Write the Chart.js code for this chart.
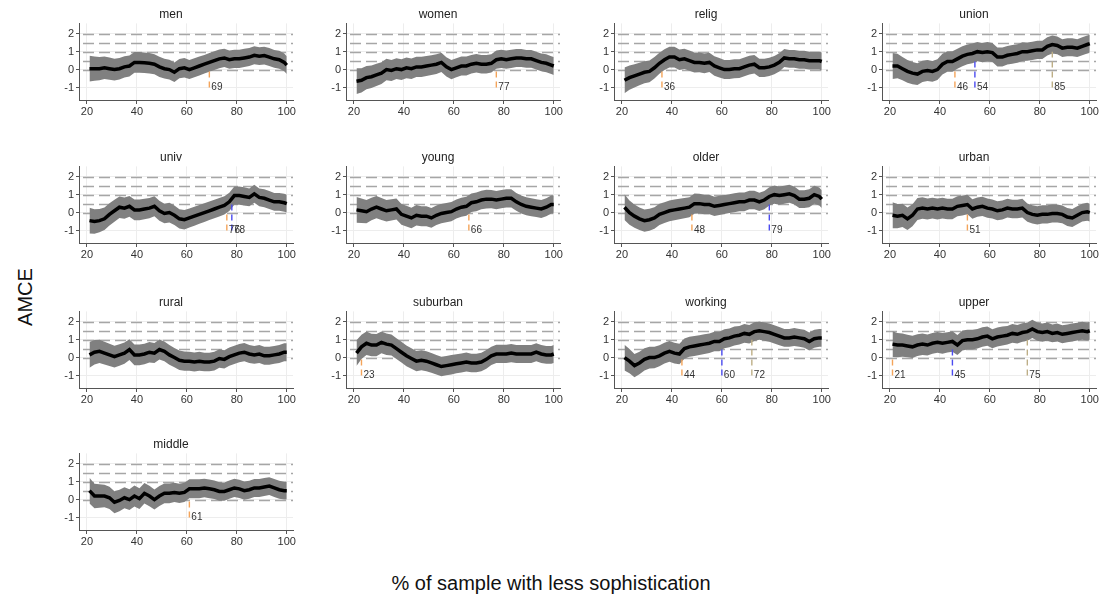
<!DOCTYPE html>
<html>
<head>
<meta charset="utf-8">
<script src="https://cdn.jsdelivr.net/npm/chart.js@4.4.1/dist/chart.umd.min.js"></script>
<style>
body{margin:0;background:#fff;width:1103px;height:600px;position:relative;overflow:hidden;font-family:"Liberation Sans",Arial,sans-serif;}
canvas{position:absolute;}
#ylab{position:absolute;left:25px;top:297px;transform:translate(-50%,-50%) rotate(-90deg);font-size:20px;color:#111;white-space:nowrap;}
#xlab{position:absolute;left:551px;top:583px;transform:translate(-50%,-50%);font-size:20px;color:#111;white-space:nowrap;}
</style>
</head>
<body>
<div id="ylab">AMCE</div>
<div id="xlab">% of sample with less sophistication</div>
<script>
// x positions where the rolling estimate was read off
const sampleX = [21,23,25,27,29,31,33,35,37,39, 41,43,45,47,49,51,53,55,57,59, 61,63,65,67,69,71,73,75,77,79, 81,83,85,87,89,91,93,95,97,99, 100];
// half width of the grey band
const ciHalf = [0.72,0.68,0.65,0.63,0.62,0.61,0.6,0.59,0.58,0.58, 0.58,0.57,0.57,0.56,0.56,0.55,0.55,0.54,0.54,0.54, 0.53,0.53,0.53,0.52,0.52,0.52,0.52,0.51,0.51,0.51, 0.51,0.51,0.5,0.5,0.5,0.5,0.5,0.5,0.5,0.5, 0.5];

const panelNames = ['men','women','relig','union','univ','young','older','urban','rural','suburban','working','upper','middle'];

const men = [0.05,0.05,0.05,0.1,0.05,0.0,0.05,0.15,0.2,0.4, 0.4,0.38,0.35,0.3,0.15,0.05,0.0,-0.15,0.05,0.1, 0.0,0.1,0.2,0.3,0.4,0.5,0.6,0.65,0.55,0.6, 0.6,0.65,0.7,0.8,0.75,0.78,0.7,0.6,0.55,0.4, 0.25];
const women = [-0.65,-0.6,-0.45,-0.4,-0.3,-0.2,0.0,-0.05,0.05,0.0, 0.1,0.05,0.15,0.15,0.2,0.25,0.3,0.4,0.15,0.0, 0.1,0.2,0.2,0.3,0.35,0.3,0.3,0.35,0.55,0.6, 0.55,0.6,0.65,0.65,0.6,0.6,0.5,0.4,0.35,0.25, 0.2];
const relig = [-0.6,-0.45,-0.35,-0.25,-0.15,-0.1,0.1,0.35,0.55,0.7, 0.7,0.55,0.6,0.5,0.4,0.4,0.35,0.4,0.2,0.1, 0.0,0.0,0.05,0.05,0.15,0.25,0.3,0.1,0.1,0.15, 0.25,0.4,0.65,0.6,0.6,0.55,0.55,0.5,0.5,0.5, 0.45];
const union = [0.2,0.2,0.05,-0.1,-0.2,-0.25,-0.1,-0.05,-0.1,0.0, 0.3,0.45,0.45,0.6,0.75,0.85,0.9,1.0,0.95,1.0, 0.95,0.7,0.7,0.8,0.85,0.9,1.0,1.0,1.05,1.1, 1.1,1.3,1.4,1.35,1.2,1.25,1.25,1.2,1.3,1.4, 1.45];
const univ = [-0.45,-0.5,-0.45,-0.35,-0.1,0.1,0.3,0.25,0.35,0.15, 0.15,0.2,0.25,0.35,0.1,-0.05,0.0,-0.15,-0.35,-0.4, -0.3,-0.2,-0.1,0.0,0.1,0.2,0.3,0.4,0.6,0.95, 0.95,0.9,0.85,1.05,0.85,0.8,0.7,0.6,0.6,0.55, 0.5];
const young = [0.15,0.1,0.05,0.2,0.3,0.2,0.1,0.15,0.2,-0.1, -0.2,-0.3,-0.15,-0.2,-0.2,-0.3,-0.15,-0.05,0.0,0.05, 0.2,0.3,0.35,0.55,0.6,0.7,0.75,0.75,0.7,0.75, 0.8,0.8,0.6,0.45,0.35,0.3,0.25,0.2,0.3,0.45, 0.45];
const older = [0.3,0.0,-0.2,-0.35,-0.45,-0.4,-0.3,-0.1,0.0,0.1, 0.15,0.2,0.25,0.3,0.5,0.5,0.45,0.45,0.35,0.4, 0.45,0.5,0.55,0.6,0.6,0.7,0.7,0.6,0.7,0.9, 1.0,0.95,1.0,1.05,0.95,0.75,0.75,0.8,1.0,0.9, 0.75];
const urban = [-0.15,-0.2,-0.15,-0.35,-0.15,0.2,0.25,0.2,0.25,0.2, 0.25,0.2,0.2,0.35,0.4,0.45,0.2,0.3,0.35,0.25, 0.2,0.1,0.15,0.25,0.2,0.2,0.25,0.0,-0.1,-0.15, -0.1,-0.1,-0.05,-0.05,-0.1,-0.25,-0.3,-0.15,0.0,0.05, 0.0];
const rural = [0.15,0.3,0.35,0.25,0.15,0.05,0.15,0.25,0.45,0.15, 0.15,0.2,0.3,0.25,0.45,0.35,0.15,0.0,-0.15,-0.2, -0.2,-0.25,-0.2,-0.25,-0.25,-0.2,-0.05,-0.1,0.05,0.15, 0.25,0.3,0.2,0.15,0.2,0.1,0.1,0.15,0.2,0.3, 0.3];
const suburban = [0.25,0.6,0.8,0.7,0.7,0.85,0.75,0.7,0.5,0.3, 0.1,-0.05,-0.2,-0.15,-0.2,-0.3,-0.4,-0.5,-0.45,-0.4, -0.35,-0.3,-0.25,-0.3,-0.3,-0.25,-0.1,0.1,0.2,0.2, 0.2,0.25,0.2,0.2,0.2,0.2,0.3,0.2,0.15,0.15, 0.2];
const working = [0.0,-0.2,-0.45,-0.3,-0.1,0.0,0.0,0.1,0.25,0.35, 0.25,0.2,0.5,0.6,0.65,0.7,0.75,0.8,0.9,0.9, 1.05,1.1,1.2,1.25,1.35,1.3,1.45,1.5,1.45,1.4, 1.3,1.2,1.1,1.1,1.15,1.1,1.05,0.9,1.05,1.1, 1.1];
const upper = [0.75,0.7,0.7,0.65,0.6,0.7,0.75,0.7,0.8,0.85, 0.8,0.85,0.9,0.7,0.95,1.0,1.0,1.05,1.15,1.2, 1.05,1.15,1.2,1.25,1.35,1.3,1.4,1.45,1.6,1.45, 1.4,1.45,1.35,1.4,1.3,1.35,1.4,1.45,1.5,1.45, 1.5];
const middle = [0.5,0.2,0.2,0.2,0.1,-0.15,-0.05,0.1,0.0,0.2, 0.05,0.35,0.2,0.0,0.2,0.35,0.35,0.4,0.35,0.4, 0.6,0.6,0.6,0.65,0.6,0.55,0.45,0.45,0.55,0.65, 0.6,0.5,0.55,0.65,0.65,0.7,0.75,0.65,0.55,0.5, 0.5];
const panelSeries = [men,women,relig,union,univ,young,older,urban,rural,suburban,working,upper,middle];

// first x where the lower bound clears 0, 0.5 and 1
const cutLevels = [0, 0.5, 1];
const panelCuts = [[69],[77],[36],[46,54,85],[76,78],[66],[48,79],[51],[],[23],[44,60,72],[21,45,75],[61]];

const xTicks = [20,40,60,80,100];
const yTicks = [-1,0,1,2];
const refLevels = [0,0.5,1,1.5,2];

const cutColors = ['#f4a45a','#4b4bf0','#bdae86'];
const fontFam = '"Liberation Sans", Arial, sans-serif';
const colLeft = [49,316,584,852];
const rowTop = [1,144,289,431];

// dashed reference lines behind the band
const refLines = {
	id:'refLines',
	beforeDatasetsDraw(chart){
		const {ctx, chartArea:a, scales:{y}} = chart;
		ctx.save();
		ctx.strokeStyle = '#a6a6a6';
		ctx.lineWidth = 1.3;
		ctx.setLineDash([11,5]);
		refLevels.forEach(v => {
			const py = Math.round(y.getPixelForValue(v)) + 0.5;
			ctx.beginPath();
			ctx.moveTo(a.left + 4, py);
			ctx.lineTo(a.right, py);
			ctx.stroke();
		});
		ctx.restore();
	}
};
// numbers next to the cut lines
const cutLabels = {
	id:'cutLabels',
	afterDatasetsDraw(chart, args, opts){
		const {ctx, scales:{x,y}} = chart;
		ctx.save();
		ctx.font = '10px ' + fontFam;
		ctx.fillStyle = '#333';
		ctx.textBaseline = 'middle';
		(opts.cuts || []).forEach(c => {
			ctx.fillText(String(c), x.getPixelForValue(c) + 2, y.getPixelForValue(-1));
		});
		ctx.restore();
	}
};

panelNames.forEach(function(name, i){
	var cv = document.createElement('canvas');
	cv.width = 252; cv.height = 121;
	cv.style.left = colLeft[i % 4] + 'px';
	cv.style.top = rowTop[Math.floor(i / 4)] + 'px';
	document.body.appendChild(cv);

	var est = panelSeries[i], cuts = panelCuts[i];
	var cutSets = cuts.map(function(c, k){
		return {
			data:[{x:c,y:-1},{x:c,y:cutLevels[k]}],
			borderColor:cutColors[k], borderWidth:1.4, borderDash:[6,4],
			pointRadius:0, fill:false, order:1
		};
	});
	var datasets = [{
		data: sampleX.map((x,k) => ({x:x, y:est[k]})),
		borderColor:'#000', borderWidth:3.5, pointRadius:0, fill:false, order:0
	}].concat(cutSets, [{
		data: sampleX.map((x,k) => ({x:x, y:est[k] + ciHalf[k]})),
		borderWidth:0, borderColor:'rgba(0,0,0,0)', backgroundColor:'#808080',
		pointRadius:0, fill:'+1', order:2
	},{
		data: sampleX.map((x,k) => ({x:x, y:est[k] - ciHalf[k]})),
		borderWidth:0, borderColor:'rgba(0,0,0,0)', pointRadius:0, fill:false, order:3
	}]);

	new Chart(cv, {
		type:'line',
		data:{datasets:datasets},
		options:{
			responsive:false, animation:false,
			layout:{padding:{left:0,right:8,top:0,bottom:0}},
			plugins:{
				legend:{display:false}, tooltip:{enabled:false},
				title:{display:true, text:name, color:'#222',
					font:{size:12, weight:'normal', family:fontFam}, padding:{top:6,bottom:2}},
				cutLabels:{cuts:cuts}
			},
			scales:{
				x:{type:'linear', min:16.8, max:102.5,
					afterBuildTicks: s => { s.ticks = xTicks.map(v => ({value:v})); },
					afterFit: s => { s.height = 22; },
					grid:{color:'#ededed', tickColor:'#555', tickLength:4},
					border:{color:'#555'},
					ticks:{font:{size:11, family:fontFam}, color:'#333', padding:1, maxRotation:0, autoSkip:false}
				},
				y:{type:'linear', min:-1.7, max:2.58,
					afterBuildTicks: s => { s.ticks = yTicks.map(v => ({value:v})); },
					afterFit: s => { s.width = 30; },
					grid:{color:'#ededed', tickColor:'#555', tickLength:3},
					border:{color:'#555'},
					ticks:{font:{size:11, family:fontFam}, color:'#333', padding:2}
				}
			}
		},
		plugins:[refLines, cutLabels]
	});
});
</script>
</body>
</html>
